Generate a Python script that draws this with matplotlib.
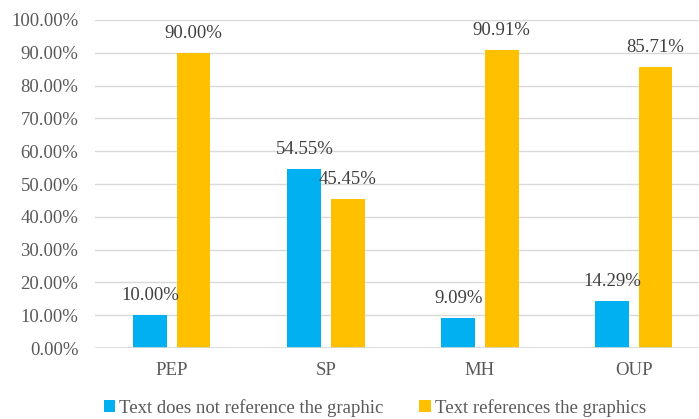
import matplotlib
matplotlib.use("Agg")
import matplotlib.pyplot as plt
import numpy as np
from matplotlib.ticker import FuncFormatter

categories = ["PEP", "SP", "MH", "OUP"]
not_ref = [10.00, 54.55, 9.09, 14.29]
ref = [90.00, 45.45, 90.91, 85.71]
series_names = ["Text does not reference the graphic", "Text references the graphics"]
colors = ["#00B0F0", "#FFC000"]

plt.rcParams['font.family'] = ['Liberation Serif', 'DejaVu Serif']
txt = "#595959"
fs = 13.5

W, H = 699, 419
fig = plt.figure(figsize=(W/100, H/100), dpi=100)
ax = fig.add_axes([95/W, 1-348/H, 604/W, 328/H])

x = np.arange(len(categories))
bw = 0.22
off = 0.14
b1 = ax.bar(x - off, not_ref, bw, color=colors[0], label=series_names[0], zorder=3)
b2 = ax.bar(x + off, ref, bw, color=colors[1], label=series_names[1], zorder=3)

for bars, vals in ((b1, not_ref), (b2, ref)):
    for r, v in zip(bars, vals):
        ax.annotate(f"{v:.2f}%", (r.get_x() + r.get_width()/2, v), xytext=(0, 8),
                    textcoords="offset points", ha="center", va="bottom",
                    fontsize=fs, color="#404040", zorder=5)

ax.set_ylim(0, 100)
ax.set_yticks(np.arange(0, 101, 10))
ax.yaxis.set_major_formatter(FuncFormatter(lambda v, p: f"{v:.2f}%"))
ax.set_xlim(-0.5, 3.5 - 12/154)
ax.set_xticks(x)
ax.set_xticklabels(categories)
ax.grid(axis="y", color="#D9D9D9", linewidth=1, zorder=0)
for s in ax.spines.values():
    s.set_visible(False)
ax.axhline(0, color="#D9D9D9", linewidth=1.2, zorder=4)
ax.tick_params(axis="y", length=0, pad=12, labelsize=fs, labelcolor=txt)
ax.tick_params(axis="x", length=0, pad=10, labelsize=fs, labelcolor=txt)

leg = fig.legend(handles=[b1, b2], labels=series_names, loc="center",
                 bbox_to_anchor=(375/W, 1-408/H), ncol=2, frameon=False,
                 fontsize=fs, handlelength=0.6, handleheight=0.6,
                 handletextpad=0.25, columnspacing=1.9, labelcolor=txt)

fig.savefig("out.png", dpi=100)
